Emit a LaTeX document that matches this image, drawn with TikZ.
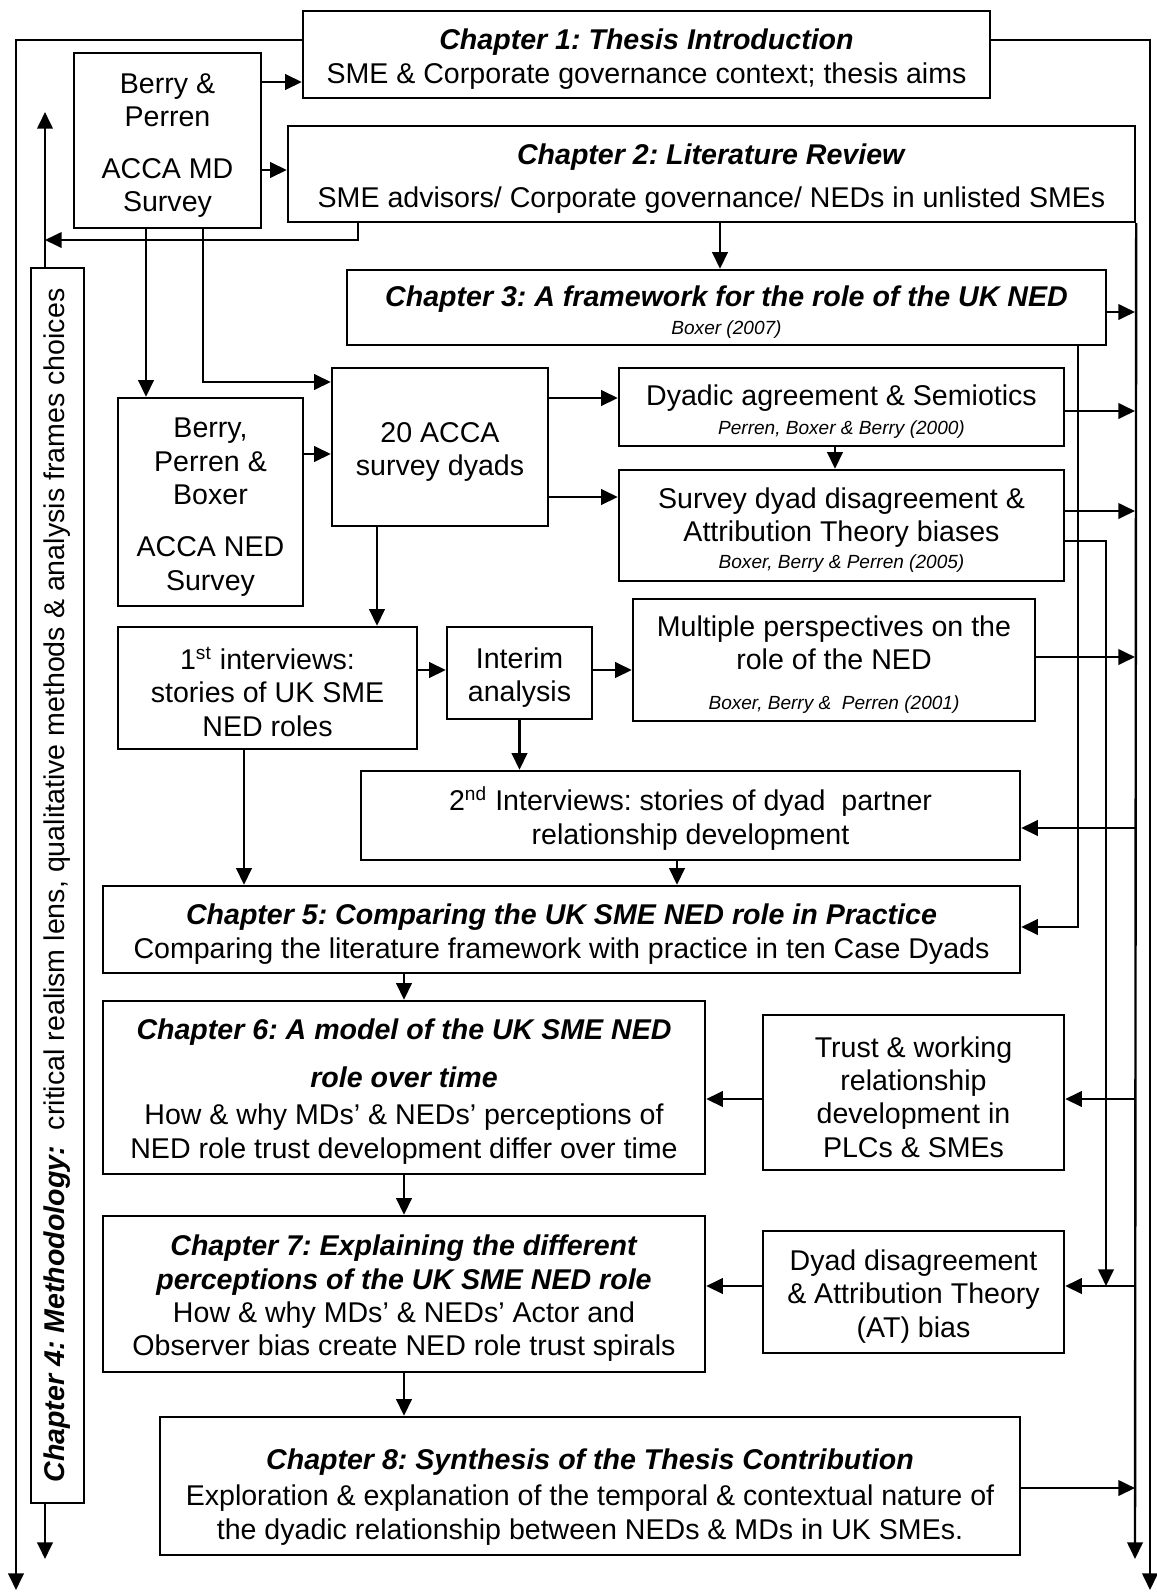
\documentclass[tikz,border=0pt]{standalone}
\usepackage{fontspec}
\setmainfont{Liberation Sans}
\usetikzlibrary{arrows.meta,%
	calc}

\frenchspacing
\newcommand{\ChapTitle}[1]{\textbf{\textit{#1}}}
\newcommand{\RefNote}[1]{{\fontsize{8}{9.6}\selectfont\textit{#1}}}
\newcommand{\Ts}[1][12.5pt]{\rule{0pt}{#1}}

\begin{document}
\begin{tikzpicture}[x=0.42pt, y=-0.42pt]

		\useasboundingbox (0,0) rectangle (1157,1592);

		\tikzset{BoxStyle/.style =
				{draw, line width=1pt, align=center, inner sep=0pt,
				font=\fontsize{12}{14}\selectfont}
		}
		\tikzset{BoxSize/.style 2 args =
				{minimum width=#1*0.42pt, minimum height=#2*0.42pt}
		}
		\tikzstyle{EdgeStyle}=[-{Triangle[length=7pt,width=6.5pt]}, line width=1pt]

		%chapters
		\node[BoxStyle, BoxSize={687}{87}] (ch1) at (646.5,54.5)
			{\Ts\ChapTitle{Chapter 1: Thesis Introduction}\\
			SME \& Corporate governance context; thesis aims};
		\node[BoxStyle, BoxSize={847}{96}] (ch2) at (711.5,174)
			{\Ts\ChapTitle{Chapter 2: Literature Review}\\[4pt]
			SME advisors/ Corporate governance/ NEDs in unlisted SMEs};
		\node[BoxStyle, BoxSize={759}{75}] (ch3) at (726.5,307.5)
			{\Ts\ChapTitle{Chapter 3: A framework for the role of the UK NED}\\[-2.5pt]
			\RefNote{Boxer (2007)}};
		\node[BoxStyle, BoxSize={917}{87}] (ch5) at (561.5,929.5)
			{\Ts\ChapTitle{Chapter 5: Comparing the UK SME NED role in Practice}\\
			Comparing the literature framework with practice in ten Case Dyads};
		\node[BoxStyle, BoxSize={602}{173}] (ch6) at (404,1087.5)
			{\Ts\ChapTitle{Chapter 6: A model of the UK SME NED}\\[6pt]
			\ChapTitle{role over time}\\[1.5pt]
			How \& why MDs' \& NEDs' perceptions of\\[0.5pt]
			NED role trust development differ over time};
		\node[BoxStyle, BoxSize={602}{156}] (ch7) at (404,1294)
			{\Ts\ChapTitle{Chapter 7: Explaining the different}\\
			\ChapTitle{perceptions of the UK SME NED role}\\
			How \& why MDs' \& NEDs' Actor and\\
			Observer bias create NED role trust spirals};
		\node[BoxStyle, BoxSize={860}{138}] (ch8) at (590,1486)
			{\Ts[18pt]\ChapTitle{Chapter 8: Synthesis of the Thesis Contribution}\\[1pt]
			Exploration \& explanation of the temporal \& contextual nature of\\
			the dyadic relationship between NEDs \& MDs in UK SMEs.};

		%methodology
		\node[draw, line width=1pt, BoxSize={53}{1235}] (method) at (57.5,885.5) {};
		\node[rotate=90, inner sep=0pt, font=\fontsize{12}{14}\selectfont] (methodText) at (method.center)
			{\ChapTitle{Chapter 4: Methodology:}\ \ critical realism lens, qualitative methods \& analysis frames choices};

		%surveys
		\node[BoxStyle, BoxSize={187}{175}] (berryMD) at (167.5,140.5)
			{\Ts Berry \&\\Perren\\[7.5pt]ACCA MD\\Survey};
		\node[BoxStyle, BoxSize={185}{208}] (berryNED) at (210.5,502)
			{\Ts Berry,\\Perren \&\\Boxer\\[8pt]ACCA NED\\Survey};
		\node[BoxStyle, BoxSize={216}{158}] (dyads) at (440,447)
			{\Ts 20 ACCA\\survey dyads};
		\node[BoxStyle, BoxSize={445}{78}] (dyadic) at (841.5,407)
			{\Ts Dyadic agreement \& Semiotics\\[-2pt]
			\RefNote{Perren, Boxer \& Berry (2000)}};
		\node[BoxStyle, BoxSize={445}{111}] (surveyDis) at (841.5,525.5)
			{\Ts Survey dyad disagreement \&\\
			Attribution Theory biases\\[-2.5pt]
			\RefNote{Boxer, Berry \& Perren (2005)}};

		%interviews
		\node[BoxStyle, BoxSize={299}{122}] (interA) at (267.5,688)
			{\Ts 1\textsuperscript{st} interviews:\\stories of UK SME\\NED roles};
		\node[BoxStyle, BoxSize={145}{92}] (interim) at (519.5,673)
			{\Ts Interim\\analysis};
		\node[BoxStyle, BoxSize={402}{122}] (multi) at (834,660)
			{\Ts Multiple perspectives on the\\role of the NED\\[2.5pt]
			\RefNote{Boxer, Berry \&~ Perren (2001)}};
		\node[BoxStyle, BoxSize={659}{89}] (interB) at (690.5,815.5)
			{\Ts 2\textsuperscript{nd} Interviews: stories of dyad~ partner\\
			relationship development};

		%theory
		\node[BoxStyle, BoxSize={301}{155}] (trust) at (913.5,1092.5)
			{\Ts Trust \& working\\relationship\\development in\\PLCs \& SMEs};
		\node[BoxStyle, BoxSize={301}{122}] (dyadAT) at (913.5,1292)
			{\Ts Dyad disagreement\\\& Attribution Theory\\(AT) bias};

		%loose ends
		\coordinate (outerL) at (16,1590);
		\coordinate (outerR) at (1150,1590);
		\coordinate (methUp) at (45,112);
		\coordinate (methDown) at (45,1559);
		\coordinate (busEnd) at (1135,1559);
		\coordinate (atDrop) at (1106,1286);

		%outer loop
		\draw[EdgeStyle] (ch1.west |- 0,40) -| (outerL);
		\draw[EdgeStyle] (ch1.east |- 0,40) -| (outerR);

		%methodology links
		\draw[EdgeStyle] (method.north -| methUp) -- (methUp);
		\draw[EdgeStyle] (method.south -| methDown) -- (methDown);
		\draw[EdgeStyle] (ch2.south -| 358,0) |- (methUp |- 0,240);

		%survey links
		\draw[EdgeStyle] (berryMD.east |- 0,82) -- (ch1.west |- 0,82);
		\draw[EdgeStyle] (berryMD.east |- 0,170) -- (ch2.west |- 0,170);
		\draw[EdgeStyle] (ch2.south -| 720,0) -- (ch3.north -| 720,0);
		\draw[EdgeStyle] (berryMD.south -| 146,0) -- (berryNED.north -| 146,0);
		\draw[EdgeStyle] (berryMD.south -| 203,0) |- (dyads.west |- 0,382);
		\draw[EdgeStyle] (berryNED.east |- 0,454) -- (dyads.west |- 0,454);
		\draw[EdgeStyle] (dyads.east |- 0,398) -- (dyadic.west |- 0,398);
		\draw[EdgeStyle] (dyads.east |- 0,497) -- (surveyDis.west |- 0,497);
		\draw[EdgeStyle] (dyadic.south -| 835,0) -- (surveyDis.north -| 835,0);

		%interview links
		\draw[EdgeStyle] (dyads.south -| 377,0) -- (interA.north -| 377,0);
		\draw[EdgeStyle] (interA.east |- 0,670) -- (interim.west |- 0,670);
		\draw[EdgeStyle] (interim.east |- 0,670) -- (multi.west |- 0,670);
		\draw[EdgeStyle] (interim.south) -- (interB.north -| interim.south);
		\draw[EdgeStyle] (interA.south -| 244,0) -- (ch5.north -| 244,0);
		\draw[EdgeStyle] (interB.south -| 677,0) -- (ch5.north -| 677,0);

		%chapter chain
		\draw[EdgeStyle] (ch5.south -| ch6.north) -- (ch6.north);
		\draw[EdgeStyle] (ch6.south) -- (ch7.north);
		\draw[EdgeStyle] (ch7.south) -- (ch8.north -| ch7.south);
		\draw[EdgeStyle] (trust.west |- 0,1099) -- (ch6.east |- 0,1099);
		\draw[EdgeStyle] (dyadAT.west |- 0,1286) -- (ch7.east |- 0,1286);

		%right bus
		\draw[EdgeStyle] (ch2.south east) -- (busEnd);
		\draw[EdgeStyle] (ch3.east |- 0,312) -- (busEnd |- 0,312);
		\draw[EdgeStyle] (dyadic.east |- 0,411) -- (busEnd |- 0,411);
		\draw[EdgeStyle] (surveyDis.east |- 0,511) -- (busEnd |- 0,511);
		\draw[EdgeStyle] (multi.east |- 0,657) -- (busEnd |- 0,657);
		\draw[EdgeStyle] (ch8.east |- 0,1488) -- (busEnd |- 0,1488);
		\draw[EdgeStyle] (busEnd |- 0,828) -- (interB.east |- 0,828);
		\draw[EdgeStyle] (busEnd |- 0,1099) -- (trust.east |- 0,1099);
		\draw[EdgeStyle] (busEnd |- 0,1286) -- (dyadAT.east |- 0,1286);
		\draw[EdgeStyle] (ch3.south -| 1078,0) |- (ch5.east |- 0,927);
		\draw[EdgeStyle] (surveyDis.east |- 0,541) -| (atDrop);

\end{tikzpicture}
\end{document}
